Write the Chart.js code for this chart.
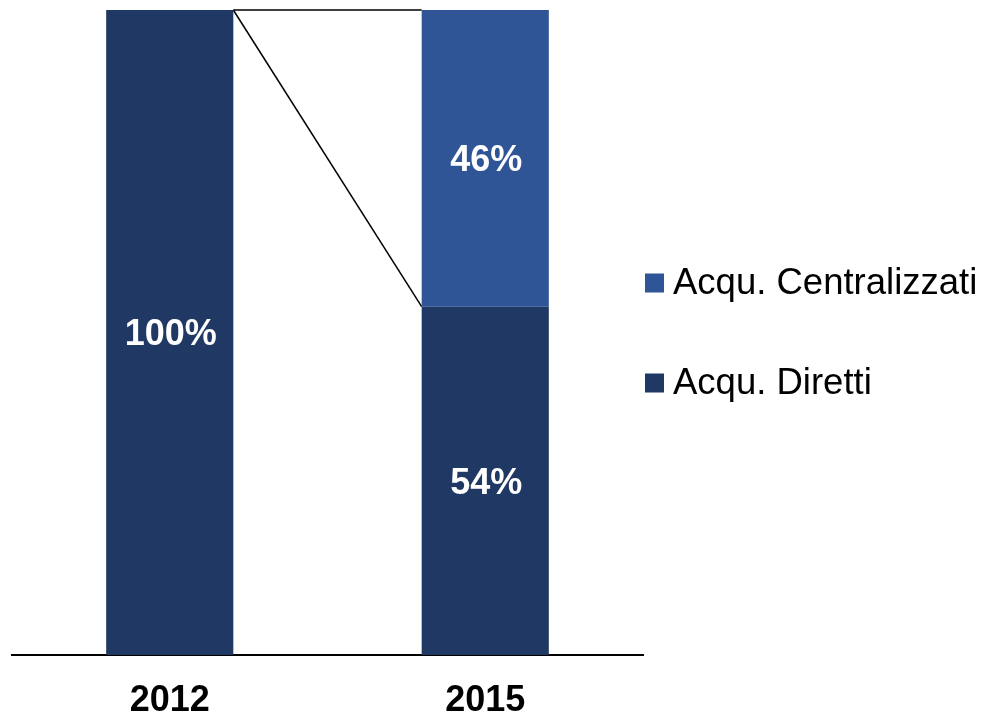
<!DOCTYPE html>
<html>
<head>
<meta charset="utf-8">
<title>Acquisti 2012 - 2015</title>
<script src="https://cdn.jsdelivr.net/npm/chart.js@4.4.1/dist/chart.umd.min.js"></script>
<style>
  body { margin: 0; background: #fff; }
  #wrap { width: 986px; height: 713px; position: relative; }
</style>
</head>
<body>
<div id="wrap"><canvas id="myChart"></canvas></div>
<script>
'use strict';

//********************* Data *************************/
let years = ['2012', '2015'];
let direttiValues = [100, 54];
let centralizzatiValues = [0, 46];
let seriesNames = ['Acqu. Diretti', 'Acqu. Centralizzati'];

let darkBlue = '#203864';
let lightBlue = '#2F5597';
let fontFamily = '"Liberation Sans", Arial, sans-serif';

//********************* Plugins *************************/

// lines joining the tops of the stacks between the two bars
let seriesLines = {
  id: 'seriesLines',
  beforeDatasetsDraw(chart) {
    let ctx = chart.ctx;
    ctx.save();
    ctx.strokeStyle = '#000';
    ctx.lineWidth = 1.5;
    for (let d = 0; d < chart.data.datasets.length; d++) {
      let bars = chart.getDatasetMeta(d).data;
      for (let i = 0; i < bars.length - 1; i++) {
        let a = bars[i];
        let b = bars[i + 1];
        ctx.beginPath();
        ctx.moveTo(a.x + a.width / 2, a.y);
        ctx.lineTo(b.x - b.width / 2, b.y);
        ctx.stroke();
      }
    }
    ctx.restore();
  }
};

// white % labels inside the segments
let barLabels = {
  id: 'barLabels',
  afterDatasetsDraw(chart) {
    let ctx = chart.ctx;
    ctx.save();
    ctx.fillStyle = '#fff';
    ctx.font = 'bold 36px ' + fontFamily;
    ctx.textAlign = 'center';
    ctx.textBaseline = 'middle';
    chart.data.datasets.forEach((ds, d) => {
      chart.getDatasetMeta(d).data.forEach((bar, i) => {
        if (!ds.data[i]) return;
        ctx.fillText(ds.data[i] + '%', bar.x + 1, (bar.y + bar.base) / 2 + 3);
      });
    });
    ctx.restore();
  }
};

// legend on the right, reversed order
let sideLegend = {
  id: 'sideLegend',
  afterDraw(chart) {
    let ctx = chart.ctx;
    let items = chart.data.datasets.slice().reverse();
    ctx.save();
    ctx.font = '36.5px ' + fontFamily;
    ctx.textBaseline = 'middle';
    ctx.textAlign = 'left';
    items.forEach((ds, i) => {
      let cy = 283 + i * 100;
      ctx.fillStyle = ds.backgroundColor;
      ctx.fillRect(645, cy - 9.5, 19, 19);
      ctx.fillStyle = '#000';
      ctx.fillText(ds.label, 673, cy + 1);
    });
    ctx.restore();
  }
};

//********************* Chart *************************/
let ctx = document.getElementById('myChart').getContext('2d');

let myChart = new Chart(ctx, {
  type: 'bar',
  data: {
    labels: years,
    datasets: [{
      label: seriesNames[0],
      data: direttiValues,
      backgroundColor: darkBlue,
      borderWidth: 0
    },
    {
      label: seriesNames[1],
      data: centralizzatiValues,
      backgroundColor: lightBlue,
      borderWidth: 0
    }]
  },
  options: {
    responsive: true,
    maintainAspectRatio: false,
    animation: false,
    layout: {
      padding: { left: 12, right: 343, top: 10, bottom: 0 }
    },
    datasets: {
      bar: { barPercentage: 1, categoryPercentage: 0.403 }
    },
    plugins: {
      legend: { display: false },
      tooltip: { enabled: false }
    },
    scales: {
      x: {
        stacked: true,
        grid: { display: false },
        border: { display: true, color: '#000', width: 2 },
        ticks: {
          color: '#000',
          padding: 16,
          font: { family: fontFamily, size: 36, weight: 'bold' }
        },
        afterFit(scale) { scale.height = 58; }
      },
      y: {
        stacked: true,
        display: false,
        min: 0,
        max: 100
      }
    }
  },
  plugins: [seriesLines, barLabels, sideLegend]
});
</script>
</body>
</html>
